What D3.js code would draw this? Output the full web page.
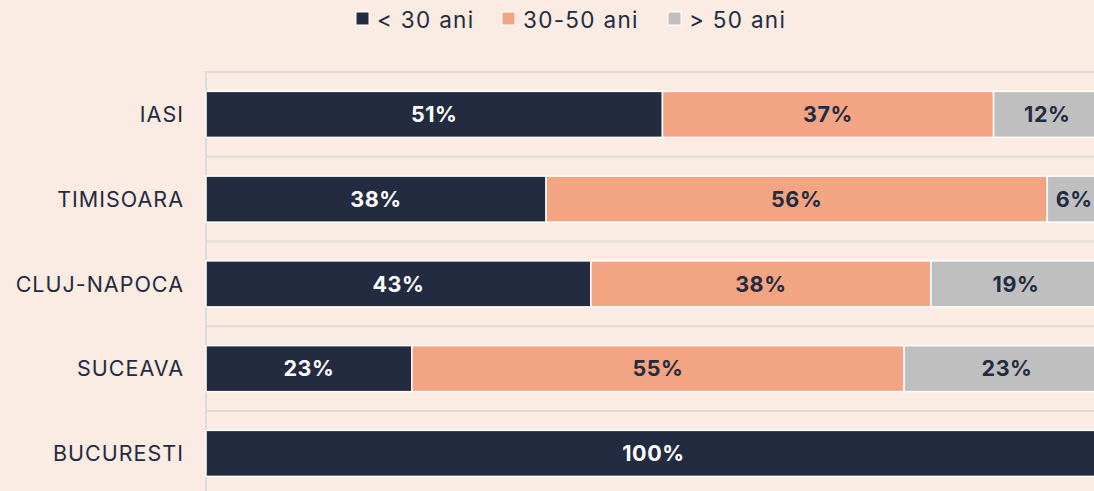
<!DOCTYPE html>
<html>
<head>
<meta charset="utf-8">
<script src="https://cdn.jsdelivr.net/npm/d3@7"></script>
<style>
  html, body { margin: 0; padding: 0; background: #FAEBE3; overflow: hidden; }
  svg { display: block; }
</style>
</head>
<body>
<svg id="chart" width="1094" height="491"></svg>
<script>
// Age structure by city, share of each age group (%)
const cities = ["IASI", "TIMISOARA", "CLUJ-NAPOCA", "SUCEAVA", "BUCURESTI"];
const seriesNames = ["< 30 ani", "30-50 ani", "> 50 ani"];
const under30 = [51, 38, 43, 23, 100];
const from30to50 = [37, 56, 38, 55, 0];
const over50 = [12, 6, 19, 23, 0];
const colors = ["#232B40", "#F3A482", "#BFBFBF"];

const seriesValues = [under30, from30to50, over50];
const rows = cities.map((c, i) => {
  const r = { city: c };
  seriesNames.forEach((s, k) => { r[s] = seriesValues[k][i]; });
  return r;
});

const svg = d3.select("#chart");
const W = 1094, H = 491;
const FONT = "Inter, 'Open Sans', sans-serif";
const TEXT = "#232B40";

const plotLeft = 206, plotRight = 1101, plotTop = 72, step = 84.75;

const x = d3.scaleLinear().domain([0, 100]).range([plotLeft, plotRight]);
const y = d3.scaleBand().domain(cities)
  .range([plotTop, plotTop + step * cities.length])
  .paddingInner(0.457).paddingOuter(0.2285);

// band separators
const bounds = d3.range(cities.length + 1).map(i => plotTop + i * step);
svg.append("g").selectAll("line").data(bounds).join("line")
  .attr("x1", plotLeft).attr("x2", W)
  .attr("y1", d => d).attr("y2", d => d)
  .attr("stroke", "#DEDBD8").attr("stroke-width", 2);

// category axis line
svg.append("line")
  .attr("x1", plotLeft).attr("x2", plotLeft)
  .attr("y1", plotTop - 1).attr("y2", H)
  .attr("stroke", "#DEDBD8").attr("stroke-width", 2);

const stacked = d3.stack().keys(seriesNames)(rows);

const groups = svg.append("g").selectAll("g").data(stacked).join("g")
  .attr("fill", (d, i) => colors[i]);

groups.selectAll("rect").data(d => d.filter(p => p[1] - p[0] > 0)).join("rect")
  .attr("x", d => x(d[0]))
  .attr("width", d => x(d[1]) - x(d[0]))
  .attr("y", d => y(d.data.city))
  .attr("height", y.bandwidth())
  .attr("stroke", "#FFFFFF").attr("stroke-width", 1.5);

groups.selectAll("text").data(d => d.filter(p => p[1] - p[0] > 0).map(p => Object.assign(p, { key: d.key }))).join("text")
  .attr("x", d => (x(d[0]) + x(d[1])) / 2)
  .attr("y", d => y(d.data.city) + y.bandwidth() / 2)
  .attr("dy", "0.36em")
  .attr("text-anchor", "middle")
  .attr("font-family", FONT).attr("font-weight", 700).attr("font-size", 21.5)
  .attr("letter-spacing", 0.6)
  .attr("fill", d => d.key === "< 30 ani" ? "#FFFFFF" : TEXT)
  .text(d => (d[1] - d[0]) + "%");

// category labels
const yAxis = svg.append("g")
  .attr("transform", `translate(${plotLeft - 22},0)`)
  .call(d3.axisLeft(y).tickSize(0).tickPadding(0));
yAxis.select(".domain").remove();
yAxis.selectAll("text")
  .attr("font-family", FONT).attr("font-size", 21.5).attr("font-weight", 400)
  .attr("letter-spacing", 1)
  .attr("fill", TEXT).attr("dy", "0.36em");

// legend
const legendX = [356, 502, 668];
const legend = svg.append("g").selectAll("g").data(seriesNames).join("g")
  .attr("transform", (d, i) => `translate(${legendX[i]},12)`);
legend.append("rect")
  .attr("width", 13).attr("height", 13)
  .attr("fill", (d, i) => colors[i])
  .attr("stroke", "#FFFFFF").attr("stroke-width", 1);
legend.append("text")
  .attr("x", 21).attr("y", 7.5).attr("dy", "0.36em")
  .attr("font-family", FONT).attr("font-size", 22.5)
  .attr("letter-spacing", 1.3)
  .attr("fill", TEXT)
  .text(d => d);
</script>
</body>
</html>
